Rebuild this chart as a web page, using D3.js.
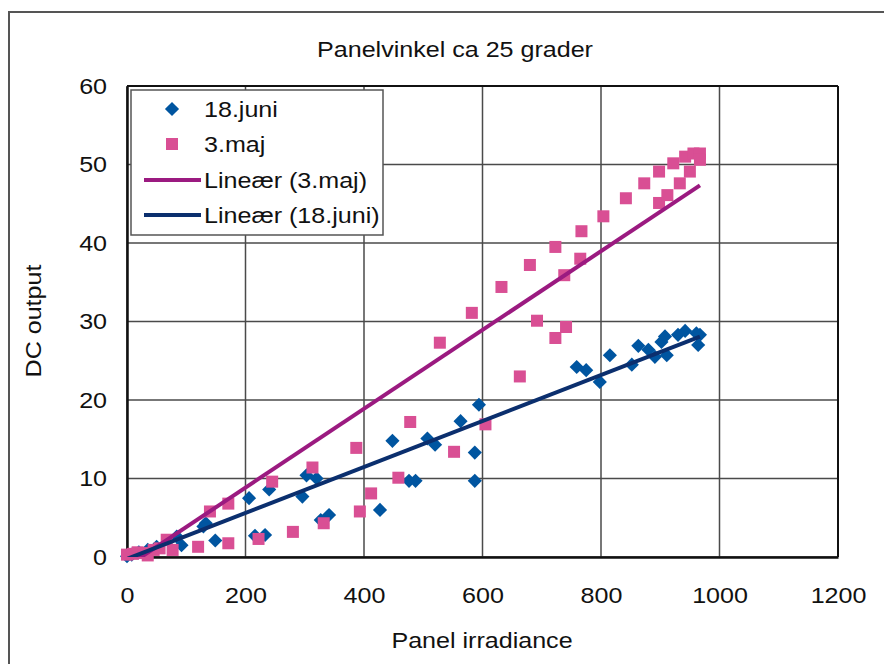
<!DOCTYPE html>
<html><head><meta charset="utf-8">
<script src="https://cdn.jsdelivr.net/npm/d3@7"></script>
<style>html,body{margin:0;padding:0;background:#fff;overflow:hidden}</style>
</head><body>
<svg id="c" width="884" height="664"></svg>
<script>
const title = "Panelvinkel ca 25 grader";
const xLabel = "Panel irradiance";
const yLabel = "DC output";
const xTicks = [0,200,400,600,800,1000,1200];
const yTicks = [0,10,20,30,40,50,60];
const seriesNames = ["18.juni","3.maj","Lineær (3.maj)","Lineær (18.juni)"];

const juniX = [0,8,20,35,50,84,92,129,133,149,206,216,233,240,296,303,320,327,341,427,448,476,487,507,520,563,587,587,594,759,775,798,815,852,863,880,891,902,908,911,930,942,961,964,967];
const juniY = [0.1,0.3,0.6,0.9,1.3,2.6,1.5,3.9,4.3,2.1,7.5,2.7,2.8,8.6,7.7,10.4,10.0,4.7,5.35,6.0,14.8,9.7,9.7,15.1,14.3,17.3,13.3,9.7,19.4,24.2,23.8,22.3,25.7,24.5,26.9,26.4,25.5,27.4,28.1,25.7,28.3,28.8,28.5,27.0,28.3];

const majX = [0,10,18,28,35,45,55,67,77,120,140,171,171,222,245,280,313,332,387,393,412,458,478,552,605,663,528,582,632,680,692,723,723,738,741,765,767,804,842,873,898,898,912,922,933,942,950,956,967,967];
const majY = [0.3,0.4,0.6,0.5,0.2,0.9,1.1,2.2,0.9,1.3,5.8,6.8,1.75,2.3,9.6,3.2,11.4,4.3,13.9,5.8,8.1,10.1,17.2,13.4,16.9,23.0,27.3,31.1,34.4,37.2,30.1,39.5,27.9,35.9,29.3,38.0,41.5,43.4,45.7,47.6,49.1,45.1,46.1,50.15,47.6,51.0,49.1,51.4,51.4,50.6];

// trendline coefficients [slope, intercept] and x range
const trendMaj = [0.0502, -1.2];
const trendJuni = [0.0293, -0.25];
const trendRange = [0, 967];

const FONT = "'Liberation Sans', Arial, sans-serif";
const FS = 22, SX = 1.14;
const C_JUNI = "#0055a0", C_MAJ = "#d94f94", C_LMAJ = "#9b1a80", C_LJUNI = "#0b2f6e";

const svg = d3.select("#c");
const L = 127, R = 838, T = 86, B = 557;
const x = d3.scaleLinear().domain([0,1200]).range([L,R]);
const y = d3.scaleLinear().domain([0,60]).range([B,T]);

function label(parent, tx, ty, txt, anchor, rot) {
  return parent.append("text")
    .attr("transform", `translate(${tx},${ty})${rot ? ` rotate(${rot})` : ""} scale(${SX},1)`)
    .attr("text-anchor", anchor).attr("font-family", FONT).attr("font-size", FS)
    .attr("fill", "#111").text(txt);
}

// outer frame
svg.append("rect").attr("x",9).attr("y",12).attr("width",900).attr("height",700)
  .attr("fill","#fff").attr("stroke","#555").attr("stroke-width",2);

// grid
const g = svg.append("g");
g.selectAll(".vg").data(xTicks).join("line")
  .attr("x1",d=>x(d)).attr("x2",d=>x(d)).attr("y1",T).attr("y2",B)
  .attr("stroke","#4a4a4a").attr("stroke-width",1.5);
g.selectAll(".hg").data(yTicks).join("line")
  .attr("x1",L).attr("x2",R).attr("y1",d=>y(d)).attr("y2",d=>y(d))
  .attr("stroke","#4a4a4a").attr("stroke-width",1.5);
svg.append("line").attr("x1",L).attr("x2",R).attr("y1",T).attr("y2",T).attr("stroke","#111").attr("stroke-width",2);
svg.append("line").attr("x1",R).attr("x2",R).attr("y1",T).attr("y2",B).attr("stroke","#111").attr("stroke-width",2);

// axes
const xa = svg.append("g").attr("transform",`translate(0,${B})`)
  .call(d3.axisBottom(x).tickValues(xTicks).tickSize(0).tickPadding(30).tickFormat(d3.format("d")));
const ya = svg.append("g").attr("transform",`translate(${L},0)`)
  .call(d3.axisLeft(y).tickValues(yTicks).tickSize(0).tickPadding(20).tickFormat(d3.format("d")));
[xa,ya].forEach(a=>{
  a.select(".domain").attr("stroke","#111").attr("stroke-width",2.5);
  a.selectAll("text").attr("font-family",FONT).attr("font-size",FS).attr("fill","#111");
});
xa.selectAll("text").attr("transform",`scale(${SX},1)`);
ya.selectAll("text").attr("x",-20/SX).attr("transform",`scale(${SX},1)`);

// points
const juni = juniX.map((v,i)=>[v,juniY[i]]);
const maj = majX.map((v,i)=>[v,majY[i]]);
svg.append("g").selectAll("path").data(juni).join("path")
  .attr("d", d3.symbol(d3.symbolSquare, 100)())
  .attr("transform",d=>`translate(${x(d[0])},${y(d[1])}) rotate(45)`)
  .attr("fill",C_JUNI);
svg.append("g").selectAll("rect").data(maj).join("rect")
  .attr("x",d=>x(d[0])-6).attr("y",d=>y(d[1])-6).attr("width",12).attr("height",12)
  .attr("fill",C_MAJ);

// trendlines (clipped)
svg.append("clipPath").attr("id","pc").append("rect").attr("x",L).attr("y",T).attr("width",R-L).attr("height",B-T);
const line = d3.line().x(d=>x(d[0])).y(d=>y(d[1]));
const tl = svg.append("g").attr("clip-path","url(#pc)");
[[trendMaj,C_LMAJ],[trendJuni,C_LJUNI]].forEach(([c,col])=>{
  tl.append("path").datum(trendRange.map(v=>[v,c[0]*v+c[1]]))
    .attr("d",line).attr("fill","none").attr("stroke",col).attr("stroke-width",4);
});

// legend
const lg = svg.append("g");
lg.append("rect").attr("x",131).attr("y",90).attr("width",252).attr("height",145)
  .attr("fill","#fff").attr("stroke","#555").attr("stroke-width",1.5);
const ly = [109,144,180,215];
lg.append("path").attr("d",d3.symbol(d3.symbolSquare,100)()).attr("transform",`translate(172,${ly[0]}) rotate(45)`).attr("fill",C_JUNI);
lg.append("rect").attr("x",166).attr("y",ly[1]-6).attr("width",12).attr("height",12).attr("fill",C_MAJ);
lg.append("line").attr("x1",144).attr("x2",201).attr("y1",ly[2]).attr("y2",ly[2]).attr("stroke",C_LMAJ).attr("stroke-width",4);
lg.append("line").attr("x1",144).attr("x2",201).attr("y1",ly[3]).attr("y2",ly[3]).attr("stroke",C_LJUNI).attr("stroke-width",4);
seriesNames.forEach((n,i)=>label(lg, 204, ly[i]+8, n, "start"));

// titles
label(svg, 455, 57, title, "middle");
label(svg, 482, 648, xLabel, "middle");
label(svg, 41, 321, yLabel, "middle", -90);
</script>
</body></html>
